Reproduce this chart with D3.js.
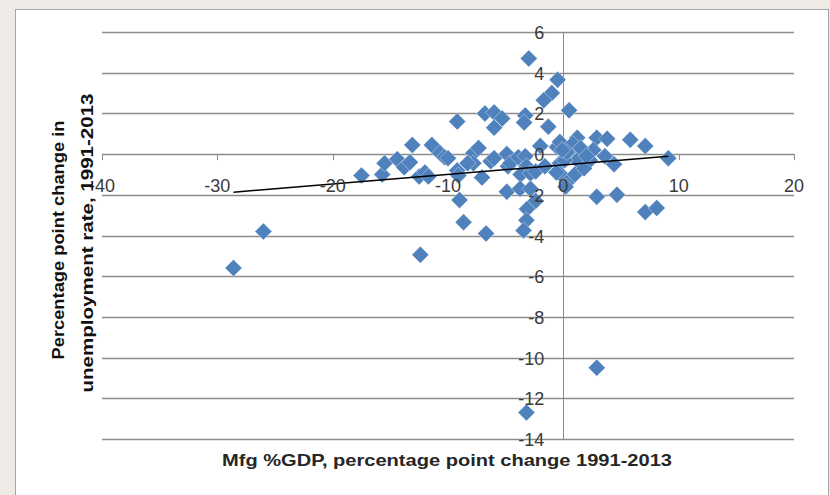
<!DOCTYPE html>
<html>
<head>
<meta charset="utf-8">
<script src="https://cdn.jsdelivr.net/npm/d3@7/dist/d3.min.js"></script>
<style>
  body { margin: 0; background: #eeebe7; }
  svg { display: block; }
</style>
</head>
<body>
<svg id="chart" width="830" height="495"></svg>
<script>
// values: change in mfg share of GDP (x) vs change in unemployment (y)
var mfgChange = [
  -28.6, -26.0, -12.4, -3.2, 2.9,
  -17.5, -15.7, -15.5, -14.4, -13.8, -13.3, -13.1, -12.5, -12.0, -11.7, -11.4, -10.7, -10.3, -10.0, -9.2, -9.1,
  -9.2, -6.8, -6.0, -5.3, -6.0, -3.3, -3.4, -1.3, -3.0, -0.5, -1.0, -1.7, 0.5,
  -7.8, -7.35, -7.8, -8.3, -7.05, -6.3, -6.0, -4.9, -4.8, -4.6, -3.9, -3.3, -3.2, -3.7, -2.85, -2.4, -2.0, -1.6,
  -0.55, -0.3, -0.3, 0.3, 0.2, -0.3, -0.6,
  -9.0, -8.65, -6.7, -4.9, -3.75, -2.85, -2.4, -3.15, -3.2, -3.45,
  0.6, 1.2, 2.9, 3.8, 5.8, 7.1, 9.1, 1.8, 2.6, 3.6, 4.4, 2.3, 1.2, 0.1, 1.0, 1.8,
  2.9, 4.65, 7.1, 8.1, 0.8, 1.5, 0.3, -0.1, 2.0
];
var unempChange = [
  -5.6, -3.8, -4.95, -12.7, -10.5,
  -1.05, -1.0, -0.45, -0.25, -0.65, -0.4, 0.45, -1.1, -0.9, -1.1, 0.45, 0.05, -0.15, -0.2, -0.8, -1.05,
  1.6, 2.0, 2.05, 1.75, 1.3, 1.9, 1.55, 1.35, 4.7, 3.65, 3.0, 2.65, 2.15,
  0.05, 0.3, -0.45, -0.45, -1.15, -0.35, -0.2, 0.0, -0.6, -0.45, -0.15, -0.1, -0.6, -1.0, -0.95, -0.85, 0.4, -0.6,
  0.35, -0.45, -0.95, -1.4, -1.6, 0.6, -0.9,
  -2.25, -3.35, -3.9, -1.85, -1.7, -1.7, -2.3, -2.7, -3.25, -3.75,
  0.2, 0.8, 0.8, 0.75, 0.7, 0.4, -0.2, 0.05, 0.2, -0.1, -0.5, -0.3, -0.3, -0.3, -1.0, -0.7,
  -2.1, -2.0, -2.85, -2.65, 0.5, 0.3, 0.1, 0.2, -0.1
];
var xTicks = [-40, -30, -20, -10, 0, 10, 20];
var yTicks = [-14, -12, -10, -8, -6, -4, -2, 0, 2, 4, 6];
// linear trendline as shown in the chart
var trendSlope = 0.047;
var trendIntercept = -0.53;

var points = mfgChange.map(function(d, i) { return { x: d, y: unempChange[i] }; });

var svg = d3.select("#chart");

// white chart panel
svg.append("rect")
    .attr("x", 15.5)
    .attr("y", 9.5)
    .attr("width", 813)
    .attr("height", 500)
    .attr("fill", "#fff")
    .attr("stroke", "#a6a6a6");

var x = d3.scaleLinear().domain([-40, 20]).range([102, 794]);
var y = d3.scaleLinear().domain([-14, 6]).range([439, 32]);

// horizontal gridlines
svg.append("g")
  .selectAll("line")
  .data(yTicks)
  .enter().append("line")
    .attr("x1", x(-40))
    .attr("x2", x(20))
    .attr("y1", function(d) { return Math.round(y(d)) + 0.5; })
    .attr("y2", function(d) { return Math.round(y(d)) + 0.5; })
    .attr("stroke", "#8c8c8c")
    .attr("stroke-width", 1.5);

// vertical axis through x = 0
svg.append("line")
    .attr("x1", Math.round(x(0)) + 0.5)
    .attr("x2", Math.round(x(0)) + 0.5)
    .attr("y1", y(6))
    .attr("y2", y(-14))
    .attr("stroke", "#8c8c8c")
    .attr("stroke-width", 1);

// tick marks on the horizontal axis
svg.append("g")
  .selectAll("line")
  .data(xTicks)
  .enter().append("line")
    .attr("x1", function(d) { return Math.round(x(d)) + 0.5; })
    .attr("x2", function(d) { return Math.round(x(d)) + 0.5; })
    .attr("y1", y(0))
    .attr("y2", y(0) + 6)
    .attr("stroke", "#8c8c8c")
    .attr("stroke-width", 1);

// diamond markers
var r = 8.5;
svg.append("g")
  .selectAll("path")
  .data(points)
  .enter().append("path")
    .attr("transform", function(d) { return "translate(" + x(d.x) + "," + y(d.y) + ")"; })
    .attr("d", "M0," + (-r) + "L" + r + ",0L0," + r + "L" + (-r) + ",0Z")
    .attr("fill", "#4f81bd")
    .attr("stroke", "rgba(255,255,255,0.55)")
    .attr("stroke-width", 0.7);

// trendline across the data range
var xExt = d3.extent(mfgChange);
svg.append("line")
    .attr("x1", x(xExt[0]))
    .attr("y1", y(trendSlope * xExt[0] + trendIntercept))
    .attr("x2", x(xExt[1]))
    .attr("y2", y(trendSlope * xExt[1] + trendIntercept))
    .attr("stroke", "#000")
    .attr("stroke-width", 1.5);

var labelFont = "'Liberation Sans', Arial, sans-serif";

// y tick labels, right of them is the axis
svg.append("g")
  .selectAll("text")
  .data(yTicks)
  .enter().append("text")
    .attr("x", x(0) - 19)
    .attr("y", function(d) { return y(d) + 1; })
    .attr("text-anchor", "end")
    .attr("dominant-baseline", "central")
    .attr("font-family", labelFont)
    .attr("font-size", 18)
    .attr("fill", "#3a3a3a")
    .text(function(d) { return d; });

// x tick labels
svg.append("g")
  .selectAll("text")
  .data(xTicks)
  .enter().append("text")
    .attr("x", x)
    .attr("y", 186)
    .attr("text-anchor", "middle")
    .attr("dominant-baseline", "central")
    .attr("font-family", labelFont)
    .attr("font-size", 18)
    .attr("fill", "#3a3a3a")
    .text(function(d) { return d; });

// axis titles
svg.append("text")
    .attr("x", 447)
    .attr("y", 460)
    .attr("text-anchor", "middle")
    .attr("dominant-baseline", "central")
    .attr("font-family", labelFont)
    .attr("font-weight", "bold")
    .attr("font-size", 17)
    .attr("fill", "#262626")
    .attr("textLength", 450)
    .attr("lengthAdjust", "spacingAndGlyphs")
    .text("Mfg %GDP, percentage point change 1991-2013");

var yTitle = svg.append("g")
    .attr("transform", "translate(72,240) rotate(-90)");
yTitle.append("text")
    .attr("x", 0)
    .attr("y", -14)
    .attr("text-anchor", "middle")
    .attr("dominant-baseline", "central")
    .attr("font-family", labelFont)
    .attr("font-weight", "bold")
    .attr("font-size", 17)
    .attr("fill", "#111")
    .attr("textLength", 239)
    .attr("lengthAdjust", "spacingAndGlyphs")
    .text("Percentage point change in");
yTitle.append("text")
    .attr("x", -3)
    .attr("y", 15)
    .attr("text-anchor", "middle")
    .attr("dominant-baseline", "central")
    .attr("font-family", labelFont)
    .attr("font-weight", "bold")
    .attr("font-size", 17)
    .attr("fill", "#111")
    .attr("textLength", 299)
    .attr("lengthAdjust", "spacingAndGlyphs")
    .text("unemployment rate, 1991-2013");
</script>
</body>
</html>
